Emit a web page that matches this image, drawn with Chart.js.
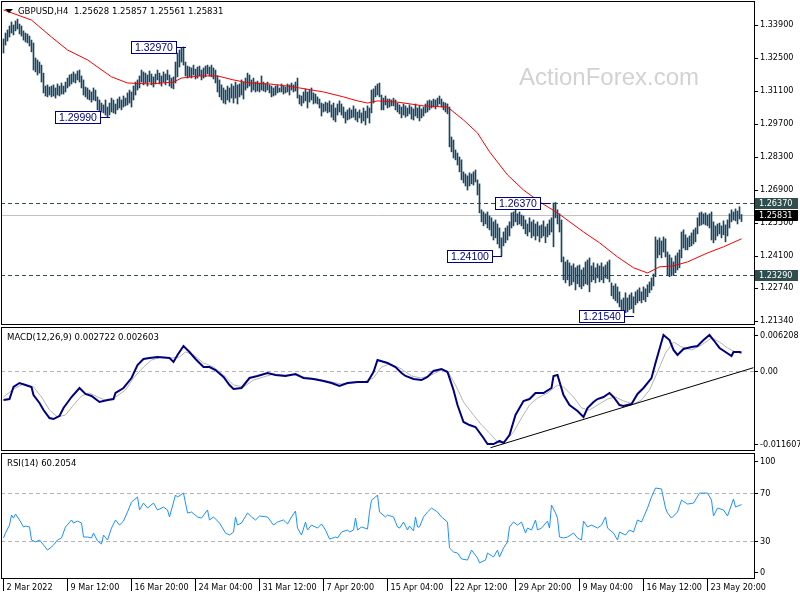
<!DOCTYPE html>
<html>
<head>
<meta charset="utf-8">
<script src="https://cdn.jsdelivr.net/npm/chart.js@4"></script>
<style>
  html, body { margin: 0; padding: 0; background: #fff; }
  #wrap { position: relative; width: 800px; height: 600px; overflow: hidden; }
  canvas { position: absolute; left: 0; }
</style>
</head>
<body>
<div id="wrap">
  <canvas id="priceChart" width="800" height="327" style="top:0"></canvas>
  <canvas id="macdChart" width="800" height="126" style="top:326px"></canvas>
  <canvas id="rsiChart" width="800" height="148" style="top:452px"></canvas>
</div>
<script>
// GBPUSD H4 bars (index 0 = 2 Mar 2022 00:00)
const highs = [
  1.3331,1.3356,1.3369,1.3386,1.3403,1.3390,1.3407,1.3415,1.3394,1.3386,
  1.3365,1.3356,1.3352,1.3343,1.3326,1.3314,1.3250,1.3242,1.3233,1.3220,
  1.3186,1.3131,1.3136,1.3127,1.3131,1.3136,1.3123,1.3140,1.3131,1.3144,
  1.3131,1.3148,1.3165,1.3178,1.3182,1.3191,1.3182,1.3195,1.3199,1.3174,
  1.3157,1.3127,1.3123,1.3114,1.3106,1.3123,1.3114,1.3085,1.3072,1.3059,
  1.3051,1.3072,1.3042,1.3059,1.3080,1.3072,1.3055,1.3076,1.3085,1.3072,
  1.3089,1.3080,1.3102,1.3114,1.3106,1.3131,1.3148,1.3157,1.3174,1.3199,
  1.3191,1.3186,1.3178,1.3195,1.3182,1.3170,1.3182,1.3199,1.3186,1.3174,
  1.3191,1.3182,1.3199,1.3178,1.3165,1.3170,1.3233,1.3271,1.3284,1.3292,
  1.3297,1.3233,1.3216,1.3212,1.3208,1.3220,1.3203,1.3212,1.3216,1.3199,
  1.3208,1.3216,1.3220,1.3212,1.3220,1.3208,1.3199,1.3174,1.3157,1.3136,
  1.3123,1.3114,1.3131,1.3123,1.3140,1.3131,1.3148,1.3136,1.3140,1.3157,
  1.3148,1.3165,1.3186,1.3178,1.3157,1.3165,1.3148,1.3152,1.3144,1.3174,
  1.3148,1.3140,1.3148,1.3136,1.3131,1.3123,1.3131,1.3136,1.3123,1.3140,
  1.3131,1.3127,1.3140,1.3136,1.3144,1.3136,1.3148,1.3165,1.3093,1.3089,
  1.3106,1.3119,1.3106,1.3114,1.3123,1.3102,1.3097,1.3085,1.3076,1.3059,
  1.3055,1.3063,1.3059,1.3068,1.3051,1.3059,1.3038,1.3055,1.3068,1.3055,
  1.3042,1.3021,1.3030,1.3038,1.3030,1.3047,1.3034,1.3021,1.3030,1.3017,
  1.3038,1.3025,1.3047,1.3038,1.3114,1.3119,1.3131,1.3140,1.3144,1.3093,
  1.3080,1.3089,1.3076,1.3076,1.3072,1.3080,1.3072,1.3059,1.3051,1.3042,
  1.3055,1.3047,1.3038,1.3051,1.3042,1.3034,1.3055,1.3038,1.3047,1.3034,
  1.3042,1.3055,1.3068,1.3072,1.3068,1.3076,1.3072,1.3080,1.3089,1.3076,
  1.3063,1.3059,1.3055,1.3042,1.2915,1.2902,1.2860,1.2847,1.2830,1.2818,
  1.2767,1.2758,1.2750,1.2763,1.2758,1.2767,1.2775,1.2733,1.2716,1.2606,
  1.2597,1.2589,1.2597,1.2580,1.2572,1.2555,1.2563,1.2546,1.2529,1.2487,
  1.2512,1.2529,1.2538,1.2555,1.2593,1.2597,1.2614,1.2589,1.2597,1.2584,
  1.2580,1.2563,1.2546,1.2572,1.2555,1.2563,1.2546,1.2555,1.2538,1.2542,
  1.2559,1.2534,1.2546,1.2563,1.2572,1.2635,1.2637,1.2606,1.2589,1.2563,
  1.2406,1.2385,1.2393,1.2381,1.2368,1.2377,1.2360,1.2368,1.2372,1.2351,
  1.2360,1.2385,1.2393,1.2402,1.2368,1.2381,1.2360,1.2377,1.2368,1.2381,
  1.2364,1.2372,1.2385,1.2393,1.2296,1.2283,1.2292,1.2279,1.2258,1.2224,
  1.2232,1.2254,1.2232,1.2245,1.2254,1.2237,1.2258,1.2266,1.2275,1.2258,
  1.2279,1.2271,1.2288,1.2300,1.2317,1.2334,1.2491,1.2478,1.2487,1.2474,
  1.2491,1.2483,1.2427,1.2415,1.2402,1.2385,1.2411,1.2423,1.2436,1.2512,
  1.2521,1.2500,1.2487,1.2495,1.2508,1.2521,1.2529,1.2572,1.2593,1.2597,
  1.2589,1.2593,1.2584,1.2589,1.2597,1.2555,1.2538,1.2546,1.2550,1.2538,
  1.2559,1.2542,1.2563,1.2589,1.2606,1.2597,1.2610,1.2601,1.2619,1.2586
];
const lows = [
  1.3271,1.3305,1.3322,1.3339,1.3356,1.3348,1.3365,1.3373,1.3352,1.3343,
  1.3326,1.3318,1.3314,1.3301,1.3276,1.3199,1.3191,1.3178,1.3186,1.3148,
  1.3102,1.3089,1.3085,1.3093,1.3085,1.3089,1.3080,1.3093,1.3089,1.3097,
  1.3097,1.3106,1.3123,1.3131,1.3140,1.3148,1.3144,1.3157,1.3148,1.3123,
  1.3093,1.3085,1.3076,1.3072,1.3063,1.3072,1.3068,1.3030,1.3021,1.3021,
  1.3017,1.3008,1.2999,1.3008,1.3021,1.3017,1.3013,1.3030,1.3038,1.3030,
  1.3042,1.3047,1.3051,1.3059,1.3042,1.3072,1.3093,1.3114,1.3123,1.3148,
  1.3136,1.3144,1.3131,1.3148,1.3136,1.3127,1.3140,1.3157,1.3140,1.3131,
  1.3148,1.3136,1.3157,1.3131,1.3123,1.3119,1.3144,1.3170,1.3212,1.3233,
  1.3220,1.3174,1.3165,1.3170,1.3165,1.3178,1.3161,1.3165,1.3174,1.3157,
  1.3165,1.3170,1.3182,1.3174,1.3170,1.3161,1.3144,1.3106,1.3085,1.3072,
  1.3059,1.3055,1.3072,1.3063,1.3080,1.3059,1.3080,1.3055,1.3085,1.3093,
  1.3076,1.3114,1.3123,1.3131,1.3106,1.3114,1.3106,1.3110,1.3106,1.3114,
  1.3110,1.3106,1.3114,1.3102,1.3085,1.3089,1.3093,1.3102,1.3106,1.3106,
  1.3097,1.3102,1.3106,1.3093,1.3114,1.3106,1.3110,1.3080,1.3055,1.3047,
  1.3059,1.3068,1.3038,1.3063,1.3072,1.3055,1.3059,1.3055,1.3038,1.3004,
  1.3021,1.3025,1.3017,1.3021,1.2999,1.2987,1.2979,1.3008,1.3021,1.3008,
  1.2996,1.2974,1.2987,1.2991,1.2996,1.2999,1.2987,1.2979,1.2996,1.2974,
  1.2983,1.2966,1.2996,1.2974,1.3017,1.3059,1.3085,1.3093,1.3085,1.3030,
  1.3030,1.3051,1.3038,1.3042,1.3047,1.3047,1.3030,1.3021,1.3013,1.2996,
  1.3008,1.2999,1.3004,1.3013,1.2991,1.2987,1.3004,1.2996,1.2983,1.2996,
  1.3004,1.3017,1.3021,1.3030,1.3038,1.3042,1.3034,1.3047,1.3055,1.3042,
  1.3030,1.3021,1.3013,1.2873,1.2852,1.2826,1.2818,1.2796,1.2767,1.2733,
  1.2720,1.2707,1.2690,1.2707,1.2716,1.2711,1.2724,1.2669,1.2593,1.2555,
  1.2538,1.2546,1.2529,1.2521,1.2495,1.2478,1.2487,1.2461,1.2444,1.2410,
  1.2453,1.2466,1.2478,1.2495,1.2529,1.2538,1.2555,1.2542,1.2546,1.2538,
  1.2525,1.2504,1.2495,1.2512,1.2487,1.2495,1.2478,1.2495,1.2470,1.2487,
  1.2495,1.2466,1.2491,1.2500,1.2512,1.2449,1.2572,1.2546,1.2512,1.2385,
  1.2309,1.2296,1.2309,1.2283,1.2288,1.2300,1.2266,1.2292,1.2279,1.2271,
  1.2283,1.2292,1.2288,1.2258,1.2300,1.2309,1.2296,1.2317,1.2300,1.2309,
  1.2296,1.2317,1.2313,1.2300,1.2241,1.2228,1.2220,1.2211,1.2194,1.2160,
  1.2154,1.2169,1.2173,1.2182,1.2186,1.2169,1.2203,1.2211,1.2220,1.2211,
  1.2224,1.2216,1.2237,1.2254,1.2266,1.2283,1.2322,1.2402,1.2415,1.2402,
  1.2427,1.2406,1.2330,1.2322,1.2326,1.2330,1.2339,1.2351,1.2360,1.2402,
  1.2444,1.2436,1.2436,1.2449,1.2453,1.2461,1.2470,1.2504,1.2538,1.2542,
  1.2546,1.2542,1.2538,1.2529,1.2478,1.2466,1.2478,1.2495,1.2504,1.2487,
  1.2500,1.2470,1.2495,1.2529,1.2555,1.2563,1.2559,1.2546,1.2567,1.2556
];
const lastBar = [1.25628, 1.25857, 1.25561, 1.25831];

// red moving average
const maIdx = [0,14,24,32,42,54,62,73,85,89,98,107,115,123,133,142,148,160,170,177,182,187,197,210,222,230,237,243,252,260,268,277,290,298,307,315,322,328,335,342,352,360,369];
const maVal = [1.3454,1.3411,1.3339,1.3284,1.3242,1.3170,1.3144,1.3140,1.3148,1.3165,1.3174,1.3174,1.3157,1.3144,1.3140,1.3131,1.3123,1.3106,1.3085,1.3068,1.3059,1.3068,1.3063,1.3047,1.3042,1.2987,1.2932,1.2852,1.2754,1.2690,1.2640,1.2593,1.2512,1.2466,1.2406,1.2360,1.2338,1.2364,1.2368,1.2385,1.2423,1.2449,1.2483];

// price panel levels and notes
const priceTicks = [1.2134, 1.2274, 1.2410, 1.2550, 1.2690, 1.2830, 1.2970, 1.3110, 1.3250, 1.3390];
const levels = [1.2637, 1.2329];
const noteText = ['1.32970', '1.29990', '1.26370', '1.24100', '1.21540'];
const notePrice = [1.3297, 1.2999, 1.2637, 1.2410, 1.2154];
const noteBar = [91, 53, 273, 249, 315];

// MACD(12,26,9)
const macdIdx = [0,3,5,8,11,14,15,18,20,23,25,28,30,34,38,41,44,48,52,55,56,60,64,67,70,73,77,83,85,87,90,93,96,100,103,106,110,113,115,119,123,127,132,136,141,146,150,155,160,164,168,172,177,182,185,187,192,196,199,201,205,209,212,215,219,222,225,227,230,233,236,240,242,245,248,250,253,256,260,263,266,270,274,275,277,280,283,287,290,292,295,297,300,303,305,308,310,314,317,320,324,326,329,330,333,335,337,340,344,347,350,353,355,358,361,364,365,368,369];
const macdVal = [-0.00433,-0.00419,-0.00240,-0.00181,-0.00211,-0.00240,-0.00359,-0.00478,-0.00582,-0.00701,-0.00716,-0.00671,-0.00552,-0.00389,-0.00255,-0.00344,-0.00374,-0.00463,-0.00433,-0.00419,-0.00330,-0.00255,-0.00107,0.00086,0.00175,0.00190,0.00205,0.00190,0.00131,0.00235,0.00368,0.00279,0.00175,0.00056,0.00056,0.00012,-0.00092,-0.00211,-0.00270,-0.00255,-0.00107,-0.00077,-0.00033,-0.00062,-0.00077,-0.00048,-0.00107,-0.00122,-0.00151,-0.00181,-0.00226,-0.00181,-0.00166,-0.00166,-0.00018,0.00160,0.00116,0.00056,-0.00033,-0.00077,-0.00122,-0.00137,-0.00092,-0.00003,0.00027,-0.00018,-0.00285,-0.00508,-0.00760,-0.00805,-0.00834,-0.00998,-0.01087,-0.01087,-0.01042,-0.01072,-0.00953,-0.00656,-0.00448,-0.00419,-0.00330,-0.00330,-0.00255,-0.00077,-0.00062,-0.00359,-0.00508,-0.00597,-0.00686,-0.00552,-0.00463,-0.00419,-0.00389,-0.00330,-0.00389,-0.00508,-0.00523,-0.00493,-0.00344,-0.00255,-0.00107,0.00116,0.00428,0.00531,0.00457,0.00309,0.00235,0.00324,0.00354,0.00368,0.00457,0.00531,0.00457,0.00339,0.00279,0.00220,0.00279,0.00279,0.00272];
const signalIdx = [0,5,10,15,19,23,27,31,35,39,43,47,52,56,61,65,70,74,79,84,88,91,95,100,105,110,115,120,125,130,135,140,145,150,157,164,169,174,180,185,189,193,197,199,204,209,214,219,222,226,230,235,239,243,247,250,255,259,263,267,272,277,280,285,289,293,297,302,306,310,315,319,323,327,331,335,339,344,349,354,358,362,366,369];
const signalVal = [-0.00389,-0.00270,-0.00196,-0.00240,-0.00389,-0.00582,-0.00686,-0.00656,-0.00508,-0.00374,-0.00330,-0.00389,-0.00448,-0.00389,-0.00285,-0.00107,0.00056,0.00160,0.00205,0.00190,0.00205,0.00279,0.00235,0.00116,0.00056,-0.00062,-0.00211,-0.00240,-0.00137,-0.00092,-0.00048,-0.00062,-0.00062,-0.00092,-0.00122,-0.00166,-0.00196,-0.00181,-0.00166,-0.00107,0.00056,0.00101,0.00056,0.00027,-0.00077,-0.00107,-0.00062,0.00012,-0.00003,-0.00211,-0.00463,-0.00656,-0.00805,-0.00923,-0.01057,-0.01072,-0.00909,-0.00701,-0.00508,-0.00404,-0.00330,-0.00211,-0.00240,-0.00389,-0.00552,-0.00582,-0.00508,-0.00419,-0.00389,-0.00448,-0.00493,-0.00433,-0.00285,-0.00018,0.00264,0.00428,0.00354,0.00309,0.00383,0.00487,0.00428,0.00339,0.00279,0.00260];
const trendIdx = [243.5, 375];
const trendVal = [-0.01142, 0.00046];
const macdTicks = [0.006208, 0, -0.011607];
const macdLast = [0.002722, 0.002603];

// RSI(14)
const rsiIdx = [0,1,3,4,5,6,8,10,11,13,14,16,18,20,22,24,25,27,29,31,34,35,37,39,40,42,44,45,47,49,50,52,54,56,58,60,62,64,67,68,70,72,75,77,80,82,83,86,87,90,92,94,97,99,102,103,105,108,111,113,115,116,117,119,122,124,126,128,132,135,137,140,142,144,146,147,149,151,152,154,157,159,161,163,166,167,169,172,173,175,176,177,179,182,183,184,186,187,188,191,192,195,197,198,200,202,203,205,206,207,208,210,212,214,217,219,222,223,225,227,229,232,234,237,238,241,242,245,247,248,250,252,253,255,257,259,261,262,264,266,267,269,272,273,274,276,277,278,280,282,285,287,289,290,292,294,297,299,301,302,305,307,308,311,313,315,317,319,322,324,326,329,331,332,334,337,339,342,345,348,352,354,355,357,360,362,365,366,369];
const rsiVal = [32.5,36.6,43.2,51.5,49.0,52.3,47.4,41.6,42.4,41.6,30.8,29.2,30.8,26.7,22.5,25.0,26.7,30.8,32.5,41.6,47.4,44.9,46.5,44.9,33.3,33.3,32.5,36.6,30.0,27.5,34.9,30.8,40.7,47.4,43.2,46.5,54.0,62.3,66.4,55.7,61.4,57.3,61.4,55.7,58.1,55.7,49.9,68.1,66.4,69.7,53.2,54.0,49.9,49.0,55.7,47.4,49.9,44.9,36.6,34.9,37.4,49.9,43.2,44.9,53.2,49.9,47.4,50.7,49.9,43.2,45.7,47.4,44.1,49.9,54.8,40.7,34.9,45.7,39.1,43.2,40.7,44.1,39.1,31.6,33.3,32.5,37.4,39.1,37.4,39.1,49.0,39.1,41.6,39.9,54.0,63.9,66.4,68.1,54.0,49.9,51.5,49.9,41.6,40.7,45.7,39.1,42.4,38.3,49.9,41.6,41.6,49.9,54.0,57.3,54.0,49.9,45.7,24.2,20.9,20.0,15.1,14.2,22.5,15.9,11.8,14.2,20.0,16.7,22.5,16.7,24.2,29.2,41.6,45.7,43.2,45.7,36.6,40.7,39.1,47.4,39.1,40.7,46.5,40.7,59.8,53.2,49.0,33.3,32.5,33.3,36.6,32.5,30.8,46.5,41.6,43.2,40.7,43.2,49.9,40.7,36.6,30.8,37.4,34.9,39.1,37.4,47.4,45.7,57.3,66.4,73.9,73.1,57.3,53.2,49.0,54.0,63.9,60.6,61.4,69.7,69.7,63.9,50.7,57.3,55.7,50.7,64.8,58.1,60.2];
const rsiTicks = [100, 70, 30, 0];
const rsiLevels = [70, 30];
const rsiLast = 60.2054;

// time axis
const dateIdx = [0, 32, 64, 96, 128, 160, 192, 224, 256, 288, 320, 352];
const dateText = ['2 Mar 2022', '9 Mar 12:00', '16 Mar 20:00', '24 Mar 04:00', '31 Mar 12:00', '7 Apr 20:00',
                  '15 Apr 04:00', '22 Apr 12:00', '29 Apr 20:00', '9 May 04:00', '16 May 12:00', '23 May 20:00'];

const FONT = '"DejaVu Sans Condensed", "DejaVu Sans", sans-serif';
Chart.defaults.font.family = FONT;
Chart.defaults.font.size = 9;
Chart.defaults.color = '#000';

const pts = (xs, ys) => xs.map((x, k) => ({ x: x, y: ys[k] }));

// frames, reference lines, side labels, notes
const panelDecor = {
  id: 'panelDecor',
  beforeDatasetsDraw(chart, args, o) {
    const { ctx, chartArea: a } = chart;
    const y = chart.scales.y;
    ctx.save();
    if (o.watermark) {
      ctx.font = '24px "Liberation Sans", Arial, sans-serif';
      ctx.fillStyle = '#d2d2d2';
      ctx.fillText(o.watermark, 519, 85);
    }
    (o.lines || []).forEach(l => {
      const py = Math.round(y.getPixelForValue(l.value)) + 0.5;
      ctx.strokeStyle = l.color;
      ctx.lineWidth = 1;
      ctx.setLineDash(l.dash || []);
      ctx.beginPath();
      ctx.moveTo(a.left, py);
      ctx.lineTo(a.right, py);
      ctx.stroke();
    });
    ctx.restore();
  },
  afterDraw(chart, args, o) {
    const { ctx, chartArea: a } = chart;
    const x = chart.scales.x, y = chart.scales.y;
    ctx.save();
    ctx.strokeStyle = '#000';
    ctx.lineWidth = 1;
    ctx.strokeRect(a.left + 0.5, a.top + 0.5, a.right - a.left, a.bottom - a.top - 1);

    ctx.font = '9px ' + FONT;
    ctx.textBaseline = 'middle';
    (o.side || []).forEach(s => {
      let py = y.getPixelForValue(s.value);
      py = Math.round(Math.min(Math.max(py, a.top + 8), a.bottom - 7));
      ctx.fillStyle = '#000';
      ctx.fillRect(a.right, py, 4, 1);
      ctx.fillText(s.text, a.right + 6, py + 1);
    });
    (o.boxes || []).forEach(b => {
      const py = Math.round(y.getPixelForValue(b.value));
      ctx.fillStyle = b.bg;
      ctx.fillRect(a.right + 1, py - 5, 43, 11);
      ctx.fillStyle = b.fg;
      ctx.fillText(b.value.toFixed(5), a.right + 5, py + 1);
    });

    (o.notes || []).forEach(n => {
      ctx.font = '10.5px "Liberation Sans", Arial, sans-serif';
      const px = Math.round(x.getPixelForValue(n.bar));
      const py = Math.round(y.getPixelForValue(n.value));
      const w = Math.ceil(ctx.measureText(n.text).width) + 8;
      const right = px - 9;
      ctx.fillStyle = '#fff';
      ctx.fillRect(right - w, py - 6, w, 13);
      ctx.strokeStyle = '#000080';
      ctx.strokeRect(right - w + 0.5, py - 5.5, w - 1, 12);
      ctx.beginPath();
      ctx.moveTo(right, py + 0.5);
      ctx.lineTo(px, py + 0.5);
      ctx.stroke();
      ctx.fillStyle = '#000080';
      ctx.fillText(n.text, right - w + 4, py + 1);
    });

    if (o.title) {
      ctx.font = '9.5px ' + FONT;
      ctx.fillStyle = '#000';
      ctx.textBaseline = 'alphabetic';
      ctx.fillText(o.title, o.titleX, a.top + 13);
    }
    if (o.marker) {
      ctx.fillStyle = '#000';
      ctx.beginPath();
      ctx.moveTo(5, 9); ctx.lineTo(13, 9); ctx.lineTo(9, 13);
      ctx.closePath();
      ctx.fill();
    }
    ctx.restore();
  }
};

function xScale(show) {
  const s = {
    type: 'linear', min: -1.25, max: 375.25, offset: false, display: show,
    afterBuildTicks: sc => { sc.ticks = dateIdx.map(v => ({ value: v })); },
    grid: { drawOnChartArea: false, tickLength: 12, color: '#000', offset: false },
    border: { display: false },
    ticks: {
      autoSkip: false, maxRotation: 0, minRotation: 0, align: 'start',
      padding: -9, labelOffset: 3, color: '#000',
      callback: (v, i) => dateText[i]
    }
  };
  if (show) s.afterFit = sc => { sc.height = 21; sc.paddingLeft = 0; sc.paddingRight = 0; };
  return s;
}

function yScale(min, max, extra) {
  return Object.assign({
    type: 'linear', position: 'right', min: min, max: max,
    afterFit: s => { s.width = 46; s.paddingTop = 0; s.paddingBottom = 0; },
    grid: { display: false },
    border: { display: false },
    ticks: { display: false }
  }, extra || {});
}

const baseOptions = (padding, scales, decor) => ({
  responsive: false,
  animation: false,
  events: [],
  layout: { padding: padding },
  scales: scales,
  plugins: { legend: { display: false }, tooltip: { enabled: false }, panelDecor: decor }
});

// price panel
new Chart(document.getElementById('priceChart'), {
  type: 'bar',
  data: {
    datasets: [
      {
        type: 'bar',
        data: highs.map((h, i) => ({ x: i, y: [lows[i], h] })),
        backgroundColor: '#1a4562',
        borderWidth: 0,
        barThickness: 1,
        grouped: false,
        order: 2
      },
      {
        type: 'line',
        data: pts(maIdx, maVal),
        borderColor: '#ff0000',
        borderWidth: 1,
        pointRadius: 0,
        tension: 0,
        order: 1
      }
    ]
  },
  options: baseOptions(
    { left: 1, top: 1, bottom: 2, right: 0 },
    {
      x: xScale(false),
      y: yScale(1.21173, 1.34919, {
        afterBuildTicks: s => { s.ticks = priceTicks.map(v => ({ value: v })); },
        grid: { display: true, drawOnChartArea: false, tickLength: 4, color: '#000' },
        ticks: { display: true, padding: 2, color: '#000', callback: v => v.toFixed(5) }
      })
    },
    {
      watermark: 'ActionForex.com',
      title: 'GBPUSD,H4  ' + lastBar.map(v => v.toFixed(5)).join(' '),
      titleX: 18,
      marker: true,
      lines: [
        { value: levels[0], color: '#2f4f4f', dash: [4, 3] },
        { value: levels[1], color: '#2f4f4f', dash: [4, 3] },
        { value: lastBar[3], color: '#c0c0c0' }
      ],
      boxes: [
        { value: levels[0], bg: '#2f4f4f', fg: '#ffffff' },
        { value: levels[1], bg: '#2f4f4f', fg: '#ffffff' },
        { value: lastBar[3], bg: '#000000', fg: '#ffffff' }
      ],
      notes: noteText.map((t, k) => ({ text: t, value: notePrice[k], bar: noteBar[k] }))
    }
  ),
  plugins: [panelDecor]
});

// MACD panel
new Chart(document.getElementById('macdChart'), {
  type: 'line',
  data: {
    datasets: [
      { data: pts(trendIdx, trendVal), borderColor: '#000000', borderWidth: 1, pointRadius: 0, order: 0 },
      { data: pts(macdIdx, macdVal), borderColor: '#000080', borderWidth: 2, pointRadius: 0, tension: 0, order: 1 },
      { data: pts(signalIdx, signalVal), borderColor: '#b4b4b4', borderWidth: 1, pointRadius: 0, tension: 0, order: 2 }
    ]
  },
  options: baseOptions(
    { left: 1, top: 1, bottom: 1, right: 0 },
    { x: xScale(false), y: yScale(-0.011906, 0.006502) },
    {
      title: 'MACD(12,26,9) ' + macdLast.map(v => v.toFixed(6)).join(' '),
      titleX: 7,
      lines: [{ value: 0, color: '#b4b4b4', dash: [4, 3] }],
      side: macdTicks.map(v => ({ value: v, text: v === 0 ? '0.00' : v.toFixed(6) }))
    }
  ),
  plugins: [panelDecor]
});

// RSI panel
new Chart(document.getElementById('rsiChart'), {
  type: 'line',
  data: {
    datasets: [
      { data: pts(rsiIdx, rsiVal), borderColor: '#1e90ff', borderWidth: 1, pointRadius: 0, tension: 0 }
    ]
  },
  options: baseOptions(
    { left: 1, top: 1, bottom: 0, right: 0 },
    { x: xScale(true), y: yScale(-1.5, 102.9) },
    {
      title: 'RSI(14) ' + rsiLast.toFixed(4),
      titleX: 7,
      lines: rsiLevels.map(v => ({ value: v, color: '#b4b4b4', dash: [4, 3] })),
      side: rsiTicks.map(v => ({ value: v, text: String(v) }))
    }
  ),
  plugins: [panelDecor]
});
</script>
</body>
</html>
